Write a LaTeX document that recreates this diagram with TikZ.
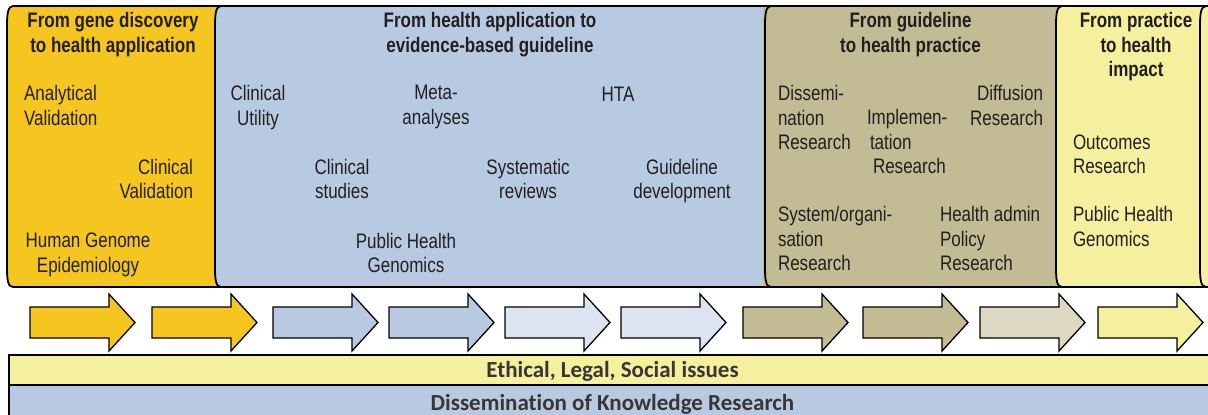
\documentclass[tikz,border=0pt]{standalone}
\usepackage{fontspec}
\setmainfont{Liberation Sans}[FakeStretch=0.81]
\newfontfamily\calibri{Carlito}[Ligatures=NoCommon]
\definecolor{corange}{HTML}{F5C520}
\definecolor{cblue}{HTML}{B8CAE2}
\definecolor{clblue}{HTML}{DBE4F0}
\definecolor{ctan}{HTML}{C3BB94}
\definecolor{cltan}{HTML}{DDD8C2}
\definecolor{cyel}{HTML}{F5F09E}
\definecolor{ink}{HTML}{231F20}
\begin{document}
\begin{tikzpicture}[x=1pt,y=-1pt,
  bd/.style={draw=black,line width=1.8pt},
  arr/.style={draw=black,line width=1.3pt,line join=miter},
  txt/.style={inner sep=0pt,outer sep=0pt,text=ink,font=\fontsize{21}{24.5}\selectfont,
    execute at begin node={\vrule height 15.5pt depth 0pt width 0pt}},
  body/.style={txt,align=left,anchor=north west},
  bodyc/.style={txt,align=center,anchor=north},
  bodyr/.style={txt,align=right,anchor=north east},
  head/.style={txt,align=center,anchor=north,font=\fontsize{21}{24.5}\selectfont\bfseries},
  band/.style={inner sep=0pt,text=ink!90,font=\calibri\bfseries\fontsize{23}{26}\selectfont,anchor=base}
]
\useasboundingbox (0,0) rectangle (1208,415);
\fill[white] (0,0) rectangle (1208,415);
% panel fills
\fill[cblue] (215,6) rectangle (763,287);
\fill[cyel] (1056,6) rectangle (1208,287);
\fill[ctan] (763,6) -- (1062,6) .. controls (1057,6) and (1056,14) .. (1056,25) -- (1056,268)
  .. controls (1056,280) and (1057,287) .. (1062,287) -- (763,287) -- cycle;
\fill[corange] (13,6) -- (221,6) .. controls (216,6) and (215,14) .. (215,25) -- (215,268)
  .. controls (215,280) and (216,287) .. (221,287) -- (13,287) .. controls (8,287) and (7,280) .. (7,268)
  -- (7,25) .. controls (7,14) and (8,6) .. (13,6) -- cycle;
% borders
\draw[bd] (13,6) -- (1208,6);
\draw[bd] (13,287) -- (1208,287);
\foreach \x in {7,215,765,1056,1200}{
  \draw[bd] (\x+6,6) .. controls (\x+1,6) and (\x,14) .. (\x,25) -- (\x,268)
    .. controls (\x,280) and (\x+1,287) .. (\x+6,287);
}
% arrows
\foreach \l/\c in {30/corange,152/corange,273/cblue,389/cblue,505/clblue,621/clblue,743/ctan,863/ctan,980/cltan,1098/cyel}{
  \draw[arr,fill=\c] (\l,307) -- (\l+79,307) -- (\l+79,294) -- (\l+105,322.5) -- (\l+79,351) -- (\l+79,338) -- (\l,338) -- cycle;
}
% bands
\fill[cyel] (9,355) rectangle (1208,385);
\fill[cblue] (9,385) rectangle (1208,415);
\draw[bd] (1208,355) -- (9,355) -- (9,415);
\draw[bd] (9,385) -- (1208,385);
\node[band] (elsi) at (612.5,377.3) {Ethical, Legal, Social issues};
\node[band] (dkr) at (612.5,410) {Dissemination of Knowledge Research};
% panel 1
\node[head] (h1) at (113,12.5) {From gene discovery\\to health application};
\node[body] (av) at (24,85.5) {Analytical\\Validation};
\node[bodyr] (cv) at (193,159) {Clinical\\Validation};
\node[bodyc] (hge) at (88,233) {Human Genome\\Epidemiology};
% panel 2
\node[head] (h2) at (490,12.5) {From health application to\\evidence-based guideline};
\node[bodyc] (cu) at (258,85.5) {Clinical\\Utility};
\node[bodyc] (ma) at (436,85.5) {Meta-\\analyses};
\node[bodyc] (hta) at (618,85.5) {HTA};
\node[bodyc] (cs) at (342,159) {Clinical\\studies};
\node[bodyc] (sr) at (528,159) {Systematic\\reviews};
\node[bodyc] (gd) at (682,159) {Guideline\\development};
\node[bodyc] (phg1) at (406,233) {Public Health\\Genomics};
% panel 3
\node[head] (h3) at (910.5,12.5) {From guideline\\to health practice};
\node[body] (dis) at (778,85.5) {Dissemi-\\nation\\Research};
\node[body] (imp) at (867,109.5) {Implemen-\\\hspace*{3pt}tation\\\hspace*{6pt}Research};
\node[bodyr] (dif) at (1043,85.5) {Diffusion\\Research};
\node[body] (sys) at (778,206.7) {System/organi-\\sation\\Research};
\node[body] (ha) at (940,206.7) {Health admin\\Policy\\Research};
% panel 4
\node[head] (h4) at (1136,12.5) {From practice\\to health\\impact};
\node[body] (out) at (1073,134.5) {Outcomes\\Research};
\node[body] (phg2) at (1073,206.7) {Public Health\\Genomics};
\end{tikzpicture}
\end{document}
